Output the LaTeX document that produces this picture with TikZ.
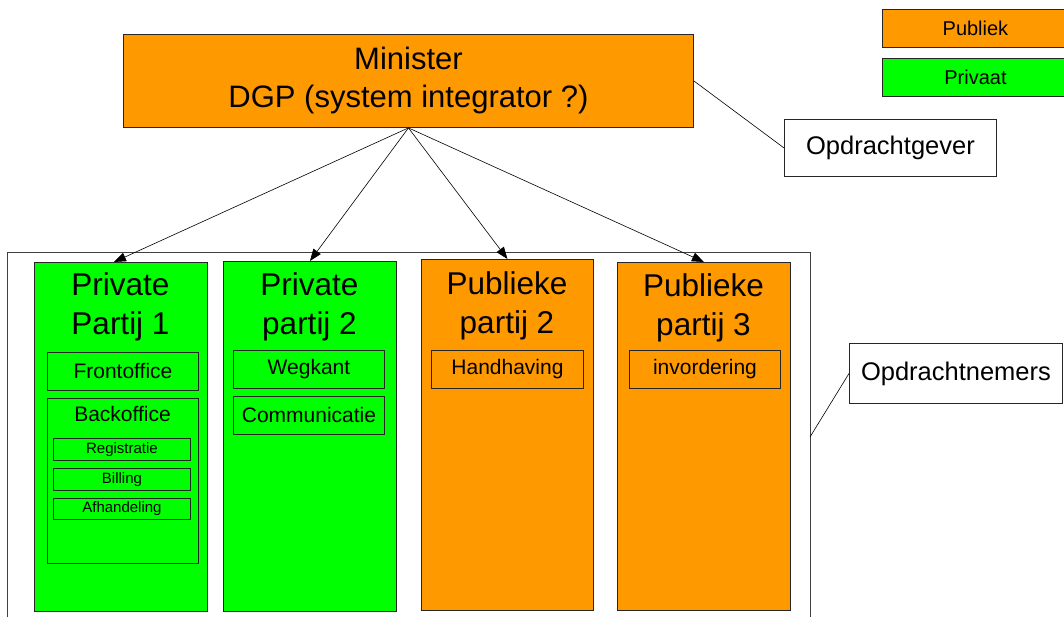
\documentclass[tikz,border=0pt]{standalone}
\usepackage{fontspec}
\setmainfont{Liberation Sans}
\usetikzlibrary{arrows.meta}
\definecolor{publiek}{RGB}{255,153,0}
\definecolor{privaat}{RGB}{0,255,0}
\tikzset{
  blok/.style={draw=black!85, line width=0.9pt, inner sep=0pt, anchor=north west},
  pub/.style={blok, fill=publiek},
  priv/.style={blok, fill=privaat},
  wit/.style={blok, fill=white},
  titel/.style={align=center, font=\fontsize{31.5}{39}\selectfont},
  deel/.style={font=\fontsize{21}{25}\selectfont},
  klein/.style={font=\fontsize{15}{18}\selectfont},
  pijl/.style={line width=0.6pt, -{Triangle[length=12pt,width=9pt]}},
  lijn/.style={line width=0.6pt},
}
\begin{document}
\begin{tikzpicture}[x=1pt, y=-1pt]
\path[use as bounding box, clip] (0,0) rectangle (1064,616);
% opdrachtgever
\node[pub, minimum width=570pt, minimum height=93pt, align=center,
  font=\fontsize{31}{38}\selectfont] (min) at (123,34) {Minister\\DGP (system integrator ?)};
\node[wit, minimum width=212pt, minimum height=57pt,
  font=\fontsize{25.5}{30}\selectfont] (gever) at (784,119) {Opdrachtgever};
\draw[lijn] (min.east) -- (gever.west);
% legenda
\node[pub, minimum width=186pt, minimum height=38pt, font=\fontsize{20}{24}\selectfont] (lpub) at (882,9) {Publiek};
\node[priv, minimum width=186pt, minimum height=38pt, font=\fontsize{20}{24}\selectfont] (lpriv) at (882,58) {Privaat};
% opdrachtnemers
\draw[draw=black!75, line width=0.9pt] (7,640) -- (7,252) -- (810,252) -- (810,640);
\coordinate (kader) at (810,437);
\node[wit, minimum width=213pt, minimum height=60pt,
  font=\fontsize{25.5}{30}\selectfont] (nemers) at (849,343) {Opdrachtnemers};
\draw[lijn] (kader) -- (nemers.west);
\node[priv, minimum width=173pt, minimum height=349pt] (p1) at (34,262) {};
\node[priv, minimum width=173pt, minimum height=350pt] (p2) at (223,261) {};
\node[pub, minimum width=172pt, minimum height=351pt] (p3) at (421,259) {};
\node[pub, minimum width=173pt, minimum height=348pt] (p4) at (617,262) {};
\node[titel] (t1) at (120.5,307) {Private\\Partij 1};
\node[titel] (t2) at (309.5,307) {Private\\partij 2};
\node[titel] (t3) at (507,305.5) {Publieke\\partij 2};
\node[titel] (t4) at (703.5,307.5) {Publieke\\partij 3};
% onderdelen
\node[priv, deel, minimum width=151pt, minimum height=38pt] (front) at (47,352) {Frontoffice};
\node[priv, minimum width=151pt, minimum height=165pt] (back) at (47,398) {};
\node[deel] (backt) at (122.5,414) {Backoffice};
\node[priv, klein, minimum width=137pt, minimum height=22pt] (reg) at (53,438) {Registratie};
\node[priv, klein, minimum width=137pt, minimum height=22pt] (bill) at (53,468) {Billing};
\node[priv, klein, minimum width=137pt, minimum height=21pt] (afh) at (53,498) {Afhandeling};
\node[priv, deel, minimum width=151pt, minimum height=38pt] (weg) at (233,350) {Wegkant};
\node[priv, deel, minimum width=151pt, minimum height=38pt] (comm) at (233,396) {Communicatie};
\node[pub, deel, minimum width=152pt, minimum height=38pt] (hand) at (431,350) {Handhaving};
\node[pub, deel, minimum width=151pt, minimum height=38pt] (inv) at (629,350) {invordering};
% pijlen
\draw[pijl] (min.south) -- ([xshift=-7pt]p1.north);
\draw[pijl] (min.south) -- (p2.north);
\draw[pijl] (min.south) -- (p3.north);
\draw[pijl] (min.south) -- (p4.north);
\end{tikzpicture}
\end{document}
